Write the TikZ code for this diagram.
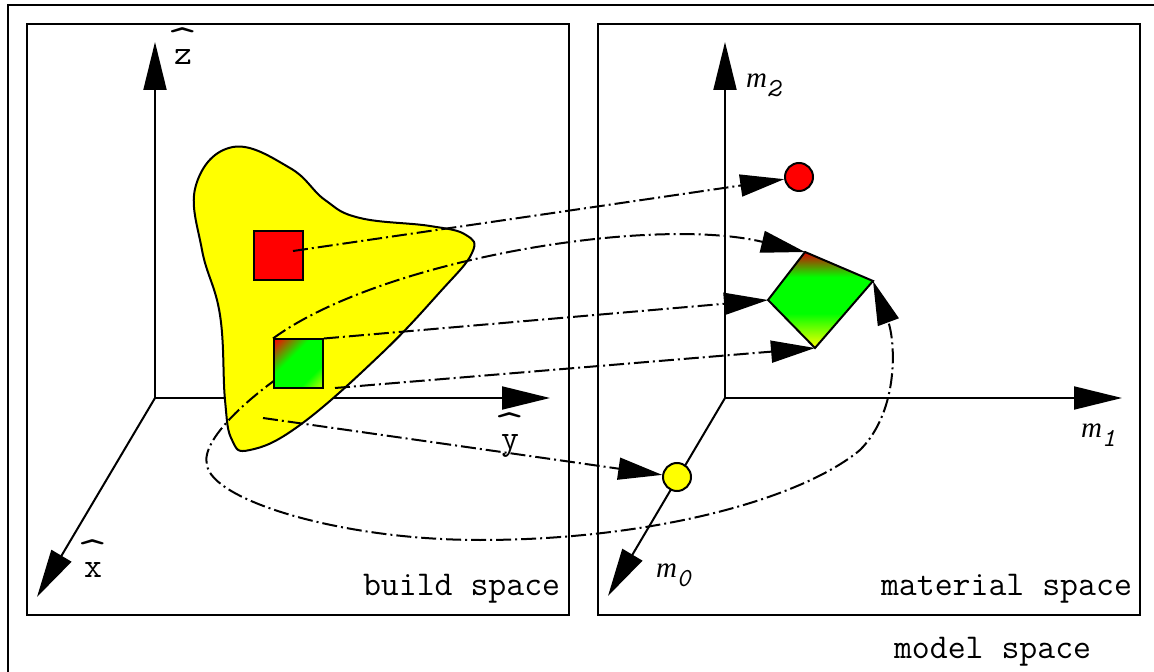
\documentclass[tikz,border=0pt]{standalone}
\usepackage{fontspec}
\usetikzlibrary{arrows.meta}
\newfontfamily\tms{Liberation Serif}
\definecolor{yel}{RGB}{255,255,0}
\definecolor{grn}{RGB}{0,255,0}
\definecolor{rd}{RGB}{255,0,0}
\newcommand\hatl[1]{\ooalign{#1\cr\hidewidth\raisebox{0.38em}{\scalebox{1.7}[1.1]{\char"5E}}\hidewidth\cr}}
\newcommand\mlab[1]{{\tms\itshape\fontsize{14.5}{16}\selectfont m}{\ttfamily\itshape\fontsize{13}{14}\selectfont\raisebox{-4.5pt}{#1}}}
\pgfdeclarehorizontalshading{sqshade}{100bp}{color(0bp)=(rd); color(15bp)=(rd); color(40bp)=(grn); color(68bp)=(grn); color(86bp)=(yel!80!grn); color(100bp)=(yel!80!grn)}
\pgfdeclareverticalshading{dmshade}{100bp}{color(0bp)=(yel); color(25bp)=(yel); color(43bp)=(grn); color(62bp)=(grn); color(75bp)=(rd!85!black); color(100bp)=(rd!85!black)}
\begin{document}
\begin{tikzpicture}[x=0.5pt,y=-0.5pt,line width=1pt,
  tip/.style={-{Triangle[length=24pt,width=11.5pt]}},
  conn/.style={-{Triangle[length=22pt,width=11pt]}, dash pattern=on 7.5pt off 2pt on 1pt off 2pt},
  lbl/.style={inner sep=0pt, font=\ttfamily\fontsize{17.4}{20}\selectfont},
  sq/.style={draw, minimum size=24.5pt, inner sep=0pt},
  dot/.style={draw, circle, minimum size=14pt, inner sep=0pt}]
\useasboundingbox (0,0) rectangle (1154,672);
\fill[white] (0,0) rectangle (1154,672);
% frames
\draw (8,672) -- (8,5) -- (1154,5);
\draw (27,24) rectangle (569,615);
\draw (598,24) rectangle (1140,615);
% build space axes
\coordinate (O) at (155,398);
\coordinate (zt) at (155,42);
\coordinate (yt) at (550,398);
\coordinate (xt) at (37,597);
\draw[tip] (O) -- (zt);
\draw[tip] (O) -- (yt);
\draw[tip] (O) -- (xt);
% material space axes
\coordinate (M) at (725,398);
\coordinate (m2t) at (725,42);
\coordinate (m1t) at (1122,398);
\coordinate (m0t) at (608,596);
\draw[tip] (M) -- (m2t);
\draw[tip] (M) -- (m1t);
\draw[tip] (M) -- (m0t);
% yellow blob
\draw[fill=yel] plot[smooth cycle, tension=0.7] coordinates {
 (233,147) (196,185) (202,250) (220,315) (225,400) (232,440) (250,450)
 (300,425) (380,355) (440,292) (472,253) (466,235) (430,226) (360,218)
 (325,200) (290,168)};
% diamond
\coordinate (dt) at (805,252);
\coordinate (dr) at (873,281);
\coordinate (db) at (815,348);
\coordinate (dl) at (768,300);
\shadedraw[shading=dmshade] (dt) -- (dr) -- (db) -- (dl) -- cycle;
% squares and dots
\node[sq, fill=rd] (rsq) at (278.5,256) {};
\coordinate (lp) at (298.5,364);
\draw[conn] (lp) .. controls (250,395) and (200,440) .. (207,465)
  .. controls (212,500) and (340,540) .. (480,540)
  .. controls (650,540) and (800,500) .. (860,450)
  .. controls (900,410) and (895,340) .. (dr);
\node[sq, shading=sqshade, shading angle=-45] (gsq) at (lp) {};
\node[dot, fill=rd] (rc) at (799,177) {};
\node[dot, fill=yel] (yc) at (677,477) {};
% connectors
\coordinate (rs0) at (293,251);
\coordinate (gs0) at (335,388);
\coordinate (ys0) at (263,418);
\draw[conn] (rs0) -- (rc);
\draw[conn] (gsq.north west) .. controls (380,260) and (650,215) .. (dt);
\draw[conn] (gsq.north east) -- (dl);
\draw[conn] (gs0) -- (db);
\draw[conn] (ys0) -- (yc);
% labels
\node[lbl, anchor=base] (zl) at (183,65) {\hatl{z}};
\node[lbl, anchor=base] (yl) at (510,450) {\hatl{y}};
\node[lbl, anchor=base] (xl) at (93,577) {\hatl{x}};
\node[inner sep=0pt, anchor=base west] (m2l) at (745,88) {\mlab{2}};
\node[inner sep=0pt, anchor=base west] (m1l) at (1080,438) {\mlab{1}};
\node[inner sep=0pt, anchor=base west] (m0l) at (655,577) {\mlab{0}};
\node[lbl, anchor=base west] (bs) at (362,595) {build space};
\node[lbl, anchor=base west] (ms) at (880,595) {material space};
\node[lbl, anchor=base west] (mods) at (893,658) {model space};
\end{tikzpicture}
\end{document}
